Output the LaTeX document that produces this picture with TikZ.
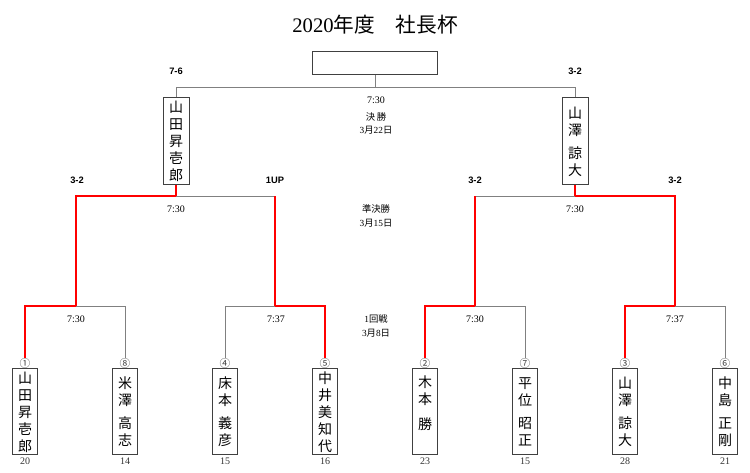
\documentclass[tikz,border=0pt]{standalone}
\usepackage{fontspec}
\setmainfont{Liberation Serif}
\newfontfamily\cjk{Noto Sans CJK JP}
\newfontfamily\lsans{Liberation Sans}
\begin{document}
\begin{tikzpicture}[x=0.75pt,y=-0.75pt,
  gl/.style={draw=black!50, line width=0.7pt},
  rl/.style={draw=red, line width=0.8pt},
  pbox/.style={draw=black!75, line width=0.75pt, minimum width=18.75pt, minimum height=64.5pt,
    inner sep=0pt, align=center, font=\cjk\fontsize{10.5}{12.75}\selectfont},
  fbox/.style={pbox, minimum width=19.5pt, minimum height=65.25pt},
  cnum/.style={inner sep=0pt, font=\cjk\fontsize{8}{8}\selectfont, text=black!75},
  snum/.style={inner sep=0pt, font=\fontsize{7.5}{8}\selectfont, text=black!80},
  res/.style={inner sep=0pt, font=\lsans\bfseries\fontsize{7}{8}\selectfont},
  tim/.style={inner sep=0pt, font=\fontsize{7.5}{8}\selectfont},
  rnd/.style={inner sep=0pt, font=\cjk\fontsize{7}{8}\selectfont}
]
\useasboundingbox (0,0) rectangle (750,473);

% title
\node[inner sep=0pt, font=\fontsize{15.5}{16}\selectfont] (title) at (375,25) {2020{\cjk 年度　社長杯}};

% top (champion) box
\node[draw=black!75, line width=0.75pt, minimum width=93.75pt, minimum height=17.25pt, inner sep=0pt] (champ) at (375,63.5) {};

% final boxes
\node[fbox] (fL) at (176,141.5) {山\\田\\昇\\壱\\郎};
\node[fbox] (fR) at (575,141.5) {山\\澤\\[4.5pt]諒\\大};

% players
\node[pbox] (p1) at (25,412) {山\\田\\昇\\壱\\郎};
\node[pbox] (p8) at (125,412) {米\\澤\\[4.5pt]高\\志};
\node[pbox] (p4) at (225,412) {床\\本\\[4.5pt]義\\彦};
\node[pbox] (p5) at (325,412) {中\\井\\美\\知\\代};
\node[pbox] (p2) at (425,412) {木\\本\\[6pt]勝\\\vphantom{勝}};
\node[pbox] (p7) at (525,412) {平\\位\\[4.5pt]昭\\正};
\node[pbox] (p3) at (625,412) {山\\澤\\[4.5pt]諒\\大};
\node[pbox] (p6) at (725,412) {中\\島\\[4.5pt]正\\剛};

% circled seeds
\node[cnum] (c1) at (25,363) {①};
\node[cnum] (c8) at (125,363) {⑧};
\node[cnum] (c4) at (225,363) {④};
\node[cnum] (c5) at (325,363) {⑤};
\node[cnum] (c2) at (425,363) {②};
\node[cnum] (c7) at (525,363) {⑦};
\node[cnum] (c3) at (625,363) {③};
\node[cnum] (c6) at (725,363) {⑥};

% numbers below
\node[snum] (s1) at (25,461) {20};
\node[snum] (s8) at (125,461) {14};
\node[snum] (s4) at (225,461) {15};
\node[snum] (s5) at (325,461) {16};
\node[snum] (s2) at (425,461) {23};
\node[snum] (s7) at (525,461) {15};
\node[snum] (s3) at (625,461) {28};
\node[snum] (s6) at (725,461) {21};

% junctions
\coordinate (fj) at (375,87);
\coordinate (sL) at (176,196);
\coordinate (sR) at (575,196);
\coordinate (ra) at (76,306);
\coordinate (rb) at (275,306);
\coordinate (rc) at (475,306);
\coordinate (rd) at (675,306);

% gray lines
\draw[gl] (champ.south) -- (fj);
\draw[gl] (fL.north) |- (fj);
\draw[gl] (fR.north) |- (fj);
\draw[gl] (rb |- sL) -- (sL);
\draw[gl] (rc |- sR) -- (sR);
\draw[gl] (c8.north) |- (ra);
\draw[gl] (c4.north) |- (rb);
\draw[gl] (c7.north) |- (rc);
\draw[gl] (c6.north) |- (rd);

% red lines
\draw[rl] (fL.south) -- (sL);
\draw[rl] (ra) |- (sL);
\draw[rl] (rb) -- (rb |- sL);
\draw[rl] (fR.south) -- (sR);
\draw[rl] (rd) |- (sR);
\draw[rl] (rc) -- (rc |- sR);
\draw[rl] (c1.north) |- (ra);
\draw[rl] (c5.north) |- (rb);
\draw[rl] (c2.north) |- (rc);
\draw[rl] (c3.north) |- (rd);

% results
\node[res] (r76) at (176,71) {7-6};
\node[res] (r32f) at (575,71) {3-2};
\node[res] (r32a) at (77,180) {3-2};
\node[res] (r1up) at (275,180) {1UP};
\node[res] (r32b) at (475,180) {3-2};
\node[res] (r32c) at (675,180) {3-2};

% times
\node[tim] (tf) at (376,100) {7:30};
\node[tim] (tsl) at (176,209) {7:30};
\node[tim] (tsr) at (575,209) {7:30};
\node[tim] (ta) at (76,319) {7:30};
\node[tim] (tb) at (276,319) {7:37};
\node[tim] (tc) at (475,319) {7:30};
\node[tim] (td) at (675,319) {7:37};

% round labels
\node[rnd] (rf) at (376,117) {決\,勝};
\node[rnd] (df) at (376,130) {{\rmfamily 3}月{\rmfamily 22}日};
\node[rnd] (rs) at (376,209) {準決勝};
\node[rnd] (ds) at (376,223) {{\rmfamily 3}月{\rmfamily 15}日};
\node[rnd] (r1) at (376,319) {{\rmfamily 1}回戦};
\node[rnd] (d1) at (376,333) {{\rmfamily 3}月{\rmfamily 8}日};
\end{tikzpicture}
\end{document}
